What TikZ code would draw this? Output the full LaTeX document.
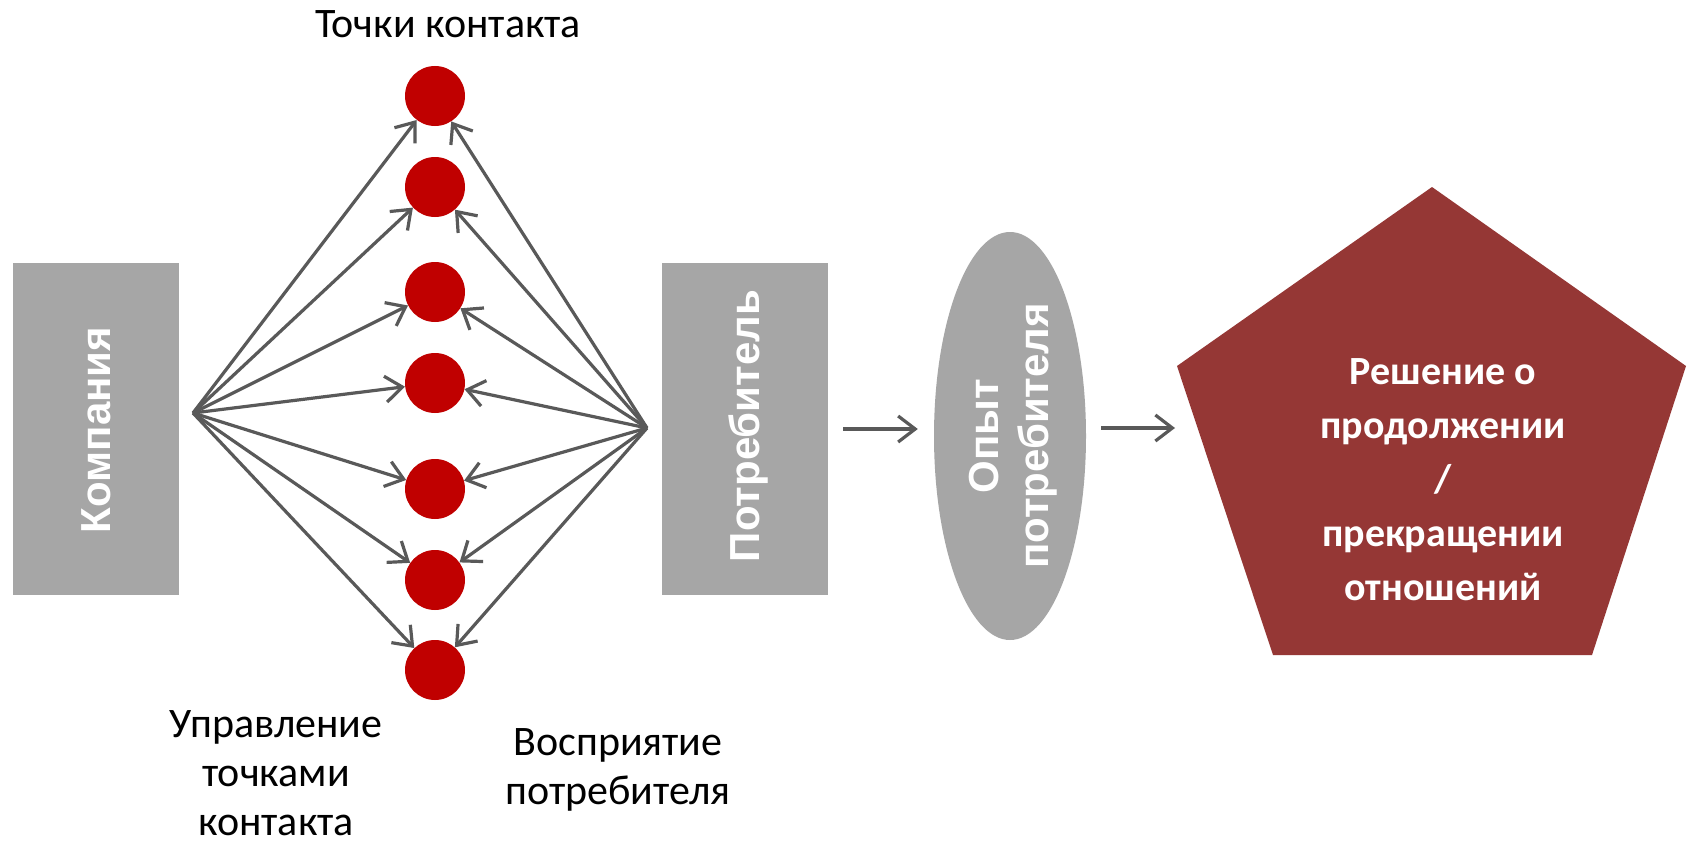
\documentclass[tikz,border=0pt]{standalone}
\usepackage{fontspec}
\setmainfont{Carlito}
\newfontfamily\arialf{Liberation Sans}
\usetikzlibrary{arrows.meta,shapes.geometric}
\definecolor{boxgray}{HTML}{A6A6A6}
\definecolor{dotred}{HTML}{C00000}
\definecolor{pentred}{HTML}{953735}
\definecolor{arrgray}{HTML}{595959}
\begin{document}
\begin{tikzpicture}[x=1pt,y=-1pt,
  graybox/.style={fill=boxgray, draw=none, minimum width=166pt, minimum height=332pt, inner sep=0pt},
  vlabel/.style={rotate=90, text=white, font=\arialf\bfseries\fontsize{42}{50}\selectfont, align=center, inner sep=0pt},
  dot/.style={circle, fill=dotred, minimum size=60pt, inner sep=0pt},
  conn/.style={draw=arrgray, line width=3.2pt, -{Straight Barb[length=17pt,width=26pt]}},
  lbl/.style={font=\fontsize{42}{49}\selectfont, align=center, inner sep=0pt},
  pentlbl/.style={font=\bfseries\fontsize{40}{54}\selectfont, text=white, align=center, inner sep=0pt},
]
\fill[white] (0,0) rectangle (1695,843);
\useasboundingbox (0,0) rectangle (1695,843);

% boxes
\node[graybox] (komp) at (96,429) {};
\node[vlabel] (kompT) at (96,430) {Компания};
\node[graybox] (potr) at (745,429) {};
\node[vlabel] (potrT) at (748,426) {Потребитель};

% ellipse
\node[ellipse, fill=boxgray, minimum width=152pt, minimum height=408pt, inner sep=0pt] (opyt) at (1010,436) {};
\node[vlabel] (opytT) at (1013,436) {Опыт\\потребителя};

% pentagon
\fill[pentred] (1432,187) -- (1686,366) -- (1592,655) -- (1273,655) -- (1177,366) -- cycle;
\node[pentlbl] (resh) at (1443,480) {Решение о\\продолжении\\/\\прекращении\\отношений};
\coordinate (pentW) at (1197,428);

% contact points
\node[dot] (c1) at (435,96) {};
\node[dot] (c2) at (435,187) {};
\node[dot] (c3) at (435,292) {};
\node[dot] (c4) at (435,383) {};
\node[dot] (c5) at (435,489) {};
\node[dot] (c6) at (435,580) {};
\node[dot] (c7) at (435,670) {};

\coordinate (hubL) at (193,413);
\coordinate (hubR) at (647,428);

\foreach \c in {c1,c2,c3,c4,c5,c6,c7}{
  \draw[conn] (hubL) -- (\c);
  \draw[conn] (hubR) -- (\c);
}

% flow arrows
\draw[conn, shorten <=15pt, shorten >=16pt] (potr.east) -- (potr.east -| opyt.west);
\draw[conn, shorten <=15pt, shorten >=22pt] (opyt.east |- pentW) -- (pentW);

% labels
\node[lbl] (top) at (448,24) {Точки контакта};
\node[lbl] (upr) at (276,773) {Управление\\точками\\контакта};
\node[lbl] (vospr) at (618,770) {Восприятие\\потребителя};
\end{tikzpicture}
\end{document}
